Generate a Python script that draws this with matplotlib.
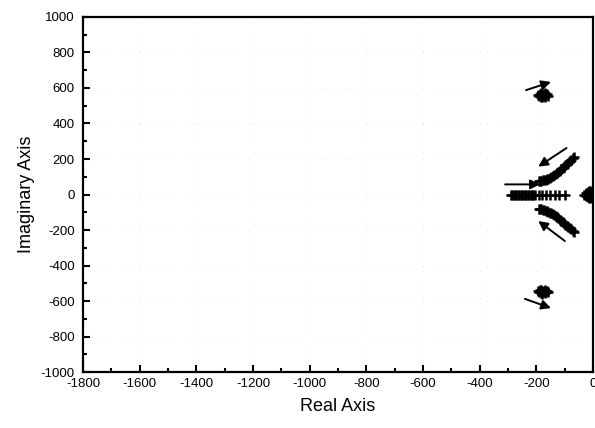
import matplotlib

matplotlib.use("Agg")
import matplotlib.pyplot as plt
from matplotlib.ticker import MultipleLocator

plt.rcParams["font.family"] = ["Liberation Sans", "DejaVu Sans"]
plt.rcParams["axes.unicode_minus"] = False

# root locus branches
upper_x = [-192, -187, -182, -177, -172, -167, -162, -157, -152, -147, -142, -137, -132,
           -127, -122, -117, -112, -107, -102, -97, -92, -87, -82, -77, -72, -67]
upper_y = [74, 75, 77, 79, 81, 84, 87, 90, 94, 98, 103, 108, 114,
           120, 127, 134, 141, 148, 156, 164, 172, 180, 188, 196, 204, 212]
lower_x = [-192, -187, -182, -177, -172, -167, -162, -157, -152, -147, -142, -137, -132,
           -127, -122, -117, -112, -107, -102, -97, -92, -87, -82, -77, -72, -67]
lower_y = [-80, -82, -84, -86, -89, -92, -95, -99, -103, -107, -112, -117, -123,
           -129, -135, -141, -148, -155, -162, -169, -176, -183, -190, -197, -204, -211]

real_x = [-290, -285, -280, -275, -270, -265, -260, -255, -250, -245, -240, -235, -230,
          -225, -220, -215, -210, -205, -192, -178, -164, -150, -135, -118, -100]
real_y = [0] * len(real_x)

origin_x = [-30, -26, -26, -22, -22, -22, -18, -18, -18, -14, -14, -14, -10, -10, -10, -6, -6]
origin_y = [0, 6, -6, 10, -10, 0, 14, -14, 0, 17, -17, 0, 17, -17, 0, 12, -12]

blob_up_x = [-195, -190, -188, -185, -182, -180, -178, -175, -172, -170, -168, -165, -162, -158]
blob_up_y = [560, 555, 566, 550, 570, 560, 548, 565, 555, 570, 552, 560, 566, 556]
blob_dn_x = [-195, -190, -188, -185, -182, -180, -178, -175, -172, -170, -168, -165, -162, -158]
blob_dn_y = [-545, -552, -540, -556, -538, -548, -558, -542, -552, -536, -556, -548, -542, -552]

# arrows: (tail, head)
arrows = [
    ((-236, 588), (-148, 634)),
    ((-93, 262), (-193, 157)),
    ((-310, 57), (-187, 57)),
    ((-99, -262), (-193, -149)),
    ((-240, -588), (-148, -640)),
]

fig = plt.figure(figsize=(5.95, 4.28), dpi=100)
ax = fig.add_axes([0.1395, 0.1308, 0.857, 0.8295])

mk = dict(ls="none", marker="+", ms=7, mew=1.8, color="black", clip_on=True)
for xs, ys in [(upper_x, upper_y), (lower_x, lower_y), (real_x, real_y),
               (origin_x, origin_y), (blob_up_x, blob_up_y), (blob_dn_x, blob_dn_y)]:
    ax.plot(xs, ys, **mk)

for tail, head in arrows:
    ax.annotate("", xy=head, xytext=tail,
                arrowprops=dict(arrowstyle="-|>", lw=1.4, color="black",
                                mutation_scale=14, shrinkA=0, shrinkB=0))

ax.set_xlim(-1800, 0)
ax.set_ylim(-1000, 1000)
ax.xaxis.set_major_locator(MultipleLocator(200))
ax.xaxis.set_minor_locator(MultipleLocator(100))
ax.yaxis.set_major_locator(MultipleLocator(200))
ax.yaxis.set_minor_locator(MultipleLocator(100))
ax.tick_params(which="both", direction="in", width=1.5, labelsize=9.5)
ax.tick_params(which="major", length=5)
ax.tick_params(which="minor", length=3)
ax.tick_params(axis="x", pad=4)
ax.tick_params(axis="y", pad=6)
for s in ax.spines.values():
    s.set_linewidth(1.6)

ax.grid(True, color="#d8d8d8", linestyle=(0, (1, 10)), linewidth=0.6)
ax.set_axisbelow(True)

ax.set_xlabel("Real Axis", fontsize=13, labelpad=6)
ax.set_ylabel("Imaginary Axis", fontsize=13, labelpad=4)

fig.savefig("out.png", dpi=100)
